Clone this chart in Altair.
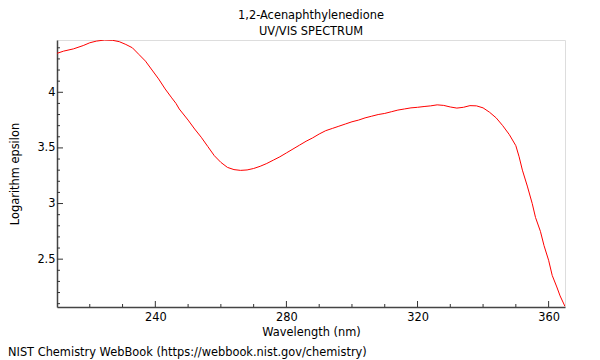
import altair as alt
import pandas as pd

wavelength = [210, 212, 215, 218, 220, 222, 224.5, 227, 229, 231, 233, 235, 237, 239, 241, 243,
              245, 246.3, 247.3, 250, 252, 254, 256, 258, 260, 262, 264, 266, 268, 270, 272,
              274, 276, 278, 280, 282, 284, 286, 288, 290, 292, 294, 296, 298, 300, 302, 304,
              306, 308, 310, 312, 314, 316, 318, 320, 322, 324, 326, 328, 330, 332, 334, 336,
              338, 340, 342, 344, 346, 348, 350, 351, 352, 353.5, 355, 356, 357.5, 358.6, 360,
              361.1, 362.5, 363.5, 365]
log_eps = [4.35, 4.37, 4.39, 4.42, 4.445, 4.46, 4.47, 4.467, 4.455, 4.43, 4.40, 4.34, 4.28,
           4.20, 4.12, 4.03, 3.95, 3.90, 3.85, 3.75, 3.67, 3.596, 3.513, 3.43, 3.37, 3.325,
           3.305, 3.298, 3.302, 3.315, 3.335, 3.36, 3.39, 3.42, 3.455, 3.49, 3.525, 3.56,
           3.59, 3.625, 3.655, 3.675, 3.695, 3.715, 3.735, 3.75, 3.77, 3.785, 3.80, 3.81,
           3.825, 3.84, 3.85, 3.86, 3.865, 3.872, 3.878, 3.887, 3.882, 3.868, 3.858, 3.865,
           3.88, 3.878, 3.86, 3.82, 3.77, 3.70, 3.62, 3.52, 3.42, 3.30, 3.157, 3.00, 2.875,
           2.75, 2.622, 2.49, 2.354, 2.25, 2.17, 2.075]

x_major = [240, 280, 320, 360]
x_minor = [220, 230, 250, 260, 270, 290, 300, 310, 330, 340, 350]
y_major = [2.5, 3, 3.5, 4]
y_minor = [2.1, 2.2, 2.3, 2.4, 2.6, 2.7, 2.8, 2.9, 3.1, 3.2, 3.3, 3.4,
           3.6, 3.7, 3.8, 3.9, 4.1, 4.2, 4.3, 4.4]

title_text = "1,2-Acenaphthylenedione"
subtitle_text = "UV/VIS SPECTRUM"
x_title = "Wavelength (nm)"
y_title = "Logarithm epsilon"
footer = "NIST Chemistry WebBook (https://webbook.nist.gov/chemistry)"

W, H = 508, 267
FONT = "DejaVu Sans"
FS = 11.4
TICK = "#333"

df = pd.DataFrame({"wl": wavelength, "le": log_eps})
xs = alt.Scale(domain=[210, 365], nice=False, zero=False)
ys = alt.Scale(domain=[2.07, 4.47], nice=False, zero=False)

main = alt.Chart(df).mark_line(color="#ff0000", strokeWidth=1, clip=True).encode(
    x=alt.X("wl:Q", scale=xs, axis=alt.Axis(
        orient="bottom", values=x_major, format="d", ticks=False, grid=False,
        domain=True, domainColor="#444", domainWidth=1.5,
        labelFont=FONT, labelFontSize=FS, labelColor="black", labelPadding=4,
        title=x_title, titleFont=FONT, titleFontSize=FS, titleFontWeight="normal",
        titleColor="black", titlePadding=4)),
    y=alt.Y("le:Q", scale=ys, axis=alt.Axis(
        orient="left", values=y_major, format="~g", ticks=False, grid=False,
        domain=True, domainColor="#444", domainWidth=1.5,
        labelFont=FONT, labelFontSize=FS, labelColor="black", labelPadding=2,
        title=y_title, titleFont=FONT, titleFontSize=FS, titleFontWeight="normal",
        titleColor="black", titlePadding=16)),
)

ymin = alt.Chart(pd.DataFrame({"v": y_minor})).mark_rule(color=TICK, strokeWidth=1).encode(
    y=alt.Y("v:Q", scale=ys, axis=None), x=alt.value(0), x2=alt.value(3))
ymaj = alt.Chart(pd.DataFrame({"v": y_major})).mark_rule(color=TICK, strokeWidth=1).encode(
    y=alt.Y("v:Q", scale=ys, axis=None), x=alt.value(0), x2=alt.value(6))
xmin = alt.Chart(pd.DataFrame({"v": x_minor})).mark_rule(color=TICK, strokeWidth=1).encode(
    x=alt.X("v:Q", scale=xs, axis=None), y=alt.value(H), y2=alt.value(H - 3))
xmaj = alt.Chart(pd.DataFrame({"v": x_major})).mark_rule(color=TICK, strokeWidth=1).encode(
    x=alt.X("v:Q", scale=xs, axis=None), y=alt.value(H), y2=alt.value(H - 6))

def label(text, x, y, align):
    return alt.Chart(pd.DataFrame({"t": [text]})).mark_text(
        align=align, baseline="alphabetic", font=FONT, fontSize=FS, color="black"
    ).encode(text="t:N", x=alt.value(x), y=alt.value(y))

t1 = label(title_text, W / 2, -21.5, "center")
t2 = label(subtitle_text, W / 2, -5.5, "center")
foot = label(footer, -49, 316, "left")

chart = alt.layer(main, ymin, ymaj, xmin, xmaj, t1, t2, foot).resolve_axis(
    x="independent", y="independent").properties(
    width=W, height=H,
    padding={"left": 49, "top": 32, "right": 27, "bottom": 53},
    autosize=alt.AutoSizeParams(type="none"),
).configure_view(stroke="#999", strokeWidth=2).configure(background="white")

chart.save("out.html", embed_options={"renderer": "svg", "actions": False})
